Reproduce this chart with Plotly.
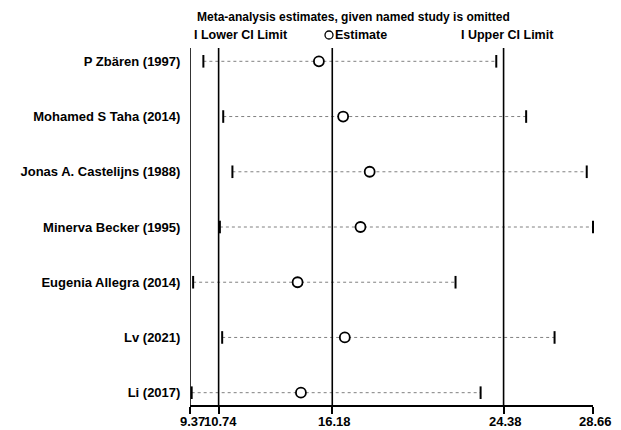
import plotly.graph_objects as go

studies = ["P Zbären (1997)", "Mohamed S Taha (2014)", "Jonas A. Castelijns (1988)",
           "Minerva Becker (1995)", "Eugenia Allegra (2014)", "Lv (2021)", "Li (2017)"]
estimate = [15.54, 16.70, 17.97, 17.53, 14.52, 16.78, 14.68]
lower = [10.01, 10.96, 11.40, 10.80, 9.52, 10.91, 9.45]
upper = [24.03, 25.46, 28.36, 28.66, 22.08, 26.82, 23.28]

overall_lower = 10.74
overall_est = 16.18
overall_upper = 24.38
axis_min = 9.37
axis_max = 28.66
tick_vals = [9.37, 10.74, 16.18, 24.38, 28.66]
tick_text = ["9.37", "10.74", "16.18", "24.38", "28.66"]

title_text = "Meta-analysis estimates, given named study is omitted"

FONT = "Liberation Sans, Arial, sans-serif"

W, H = 621, 430
ML, MR, MT, MB = 190, 28, 48, 25

fig = go.Figure()
rows = list(range(len(studies)))

# dotted CI lines
for i in rows:
    fig.add_trace(go.Scatter(
        x=[lower[i], upper[i]], y=[i, i], mode="lines",
        line=dict(color="#808080", width=1, dash="dot"),
        hoverinfo="skip", showlegend=False, cliponaxis=False))

# reference vertical lines
for v in [axis_min, overall_lower, overall_est, overall_upper]:
    fig.add_shape(type="line", xref="x", yref="paper", x0=v, x1=v, y0=0, y1=1,
                  line=dict(color="black", width=1.6), layer="above")

# CI limit markers
for vals in (lower, upper):
    fig.add_trace(go.Scatter(
        x=vals, y=rows, mode="markers",
        marker=dict(symbol="line-ns-open", size=9, color="black",
                    line=dict(color="black", width=2)),
        showlegend=False, cliponaxis=False))
# estimates
fig.add_trace(go.Scatter(
    x=estimate, y=rows, mode="markers",
    marker=dict(symbol="circle", size=10, color="white", line=dict(color="black", width=1.8)),
    showlegend=False, cliponaxis=False))

pw = W - ML - MR
ph = H - MT - MB

def px_x(p):
    return (p - ML) / pw

def px_y(p):
    return (H - MB - p) / ph

annotations = [
    dict(text="<b>" + title_text + "</b>", xref="paper", yref="paper", x=px_x(195), y=px_y(17),
         xanchor="left", yanchor="middle", showarrow=False,
         font=dict(family=FONT, size=12, color="black")),
    dict(text="<b>I Lower CI Limit</b>", xref="paper", yref="paper", x=px_x(192), y=px_y(35),
         xanchor="left", yanchor="middle", showarrow=False,
         font=dict(family=FONT, size=12.5, color="black")),
    dict(text="<b>Estimate</b>", xref="paper", yref="paper", x=px_x(333), y=px_y(35),
         xanchor="left", yanchor="middle", showarrow=False,
         font=dict(family=FONT, size=12.5, color="black")),
    dict(text="<b>I Upper CI Limit</b>", xref="paper", yref="paper", x=px_x(459), y=px_y(35),
         xanchor="left", yanchor="middle", showarrow=False,
         font=dict(family=FONT, size=12.5, color="black")),
]
# x tick labels as annotations anchored to the x axis values
for v, t in zip(tick_vals, tick_text):
    annotations.append(dict(text="<b>" + t + "</b>", xref="x", yref="paper", x=v, y=0,
                            xanchor="center", yanchor="top", yshift=-7, xshift=2,
                            showarrow=False,
                            font=dict(family=FONT, size=13, color="black")))

fig.add_shape(type="circle", xref="paper", yref="paper",
              x0=px_x(325), x1=px_x(333), y0=px_y(39), y1=px_y(31),
              line=dict(color="black", width=1.3), fillcolor="white")

fig.update_layout(
    width=W, height=H, margin=dict(l=ML, r=MR, t=MT, b=MB, autoexpand=False),
    plot_bgcolor="white", paper_bgcolor="white",
    annotations=annotations,
    xaxis=dict(range=[axis_min, axis_max], showgrid=False, zeroline=False,
               showline=True, linecolor="black", linewidth=1.6,
               tickmode="array", tickvals=tick_vals, ticktext=tick_text,
               ticks="outside", ticklen=7, tickwidth=1.6, tickcolor="black",
               showticklabels=False, automargin=False),
    yaxis=dict(range=[6.223, -0.241], showgrid=False, zeroline=False, showline=False,
               tickmode="array", tickvals=rows, ticktext=["<b>" + s + "</b>" for s in studies],
               ticks="outside", ticklen=6, tickcolor="rgba(0,0,0,0)", automargin=False,
               tickfont=dict(family=FONT, size=13, color="black")),
)

fig.write_html("out.html")
